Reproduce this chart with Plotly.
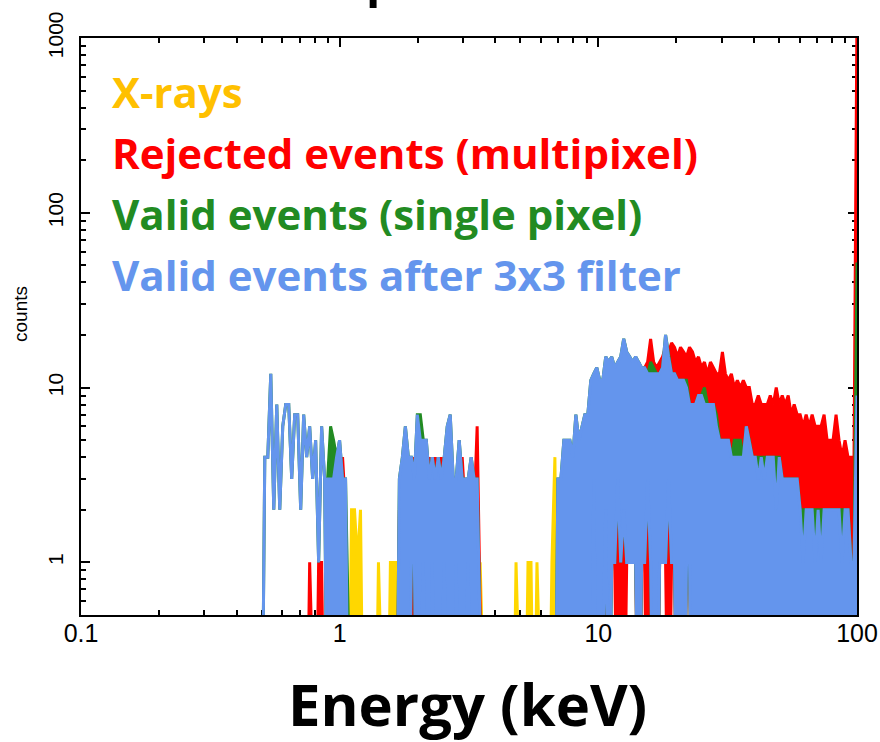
import numpy as np
import plotly.graph_objects as go

# Energy bin grid (keV), log-spaced from 0.5 to 100 keV; last bin collects overflow
N_BINS = 200
ENERGY = np.geomspace(0.5, 100.0, N_BINS)

# Counts per bin. For the dense part of the spectrum each bin stores the range the
# histogram sweeps through inside it: *_HI = highest count, *_LO = lowest count.

BLUE_HI = [
    0, 4, 4, 12, 2, 8, 2, 6, 8, 8,
    3, 7, 7, 2, 7, 4, 6, 3, 5, 1,
    6, 3, 3, 3, 3, 4, 5, 3, 3, 0,
    0, 0, 0, 0, 0, 0, 0, 0, 0, 0,
    0, 0, 0, 0, 0, 0, 3, 4, 6, 4,
    4, 3, 7, 5, 5, 5, 3, 4, 3, 4,
    3, 4, 6, 7, 3, 3, 5, 3, 3, 3,
    4, 3, 3, 0, 0, 0, 0, 0, 0, 0,
    0, 0, 0, 0, 0, 0, 0, 0, 0, 0,
    0, 0, 0, 0, 0, 0, 0, 0, 0, 3,
    3, 5, 5, 5, 4, 7, 5, 6, 7, 7,
    11, 12, 13, 11, 11, 15, 14, 15, 13, 14,
    15, 19, 16, 15, 14, 15, 14, 13, 13, 12,
    12, 12, 12, 12, 13, 20, 15, 12, 12, 11,
    11, 11, 10, 8, 8, 8, 9, 9, 8, 8,
    8, 8, 6, 5, 5, 5, 5, 4, 4, 4,
    4, 4, 6, 5, 4, 4, 3, 4, 3, 4,
    4, 4, 2, 4, 3, 3, 3, 3, 3, 3,
    2, 1, 2, 2, 2, 1, 2, 1, 2, 2,
    2, 2, 2, 2, 1, 2, 2, 1, 1, 9,
]
BLUE_LO = [
    0, 4, 4, 12, 2, 8, 2, 6, 8, 8,
    3, 7, 7, 2, 7, 4, 6, 3, 5, 1,
    6, 3, 0, 0, 0, 0, 0, 0, 0, 0,
    0, 0, 0, 0, 0, 0, 0, 0, 0, 0,
    0, 0, 0, 0, 0, 0, 0, 0, 0, 0,
    1, 1, 0, 0, 1, 0, 0, 1, 0, 0,
    0, 1, 0, 0, 0, 1, 0, 0, 0, 1,
    0, 0, 0, 0, 0, 0, 0, 0, 0, 0,
    0, 0, 0, 0, 0, 0, 0, 0, 0, 0,
    0, 0, 0, 0, 0, 0, 0, 0, 0, 0,
    0, 0, 0, 0, 0, 0, 0, 0, 0, 0,
    0, 3, 0, 0, 0, 2, 0, 1, 1, 3,
    1, 2, 1, 1, 1, 1, 0, 1, 1, 3,
    1, 0, 0, 1, 1, 1, 3, 1, 1, 0,
    0, 0, 1, 1, 0, 0, 0, 0, 0, 0,
    0, 0, 0, 0, 0, 0, 0, 0, 0, 0,
    0, 0, 0, 0, 0, 0, 0, 0, 0, 0,
    0, 0, 0, 0, 0, 0, 0, 0, 0, 0,
    0, 0, 0, 0, 0, 0, 0, 0, 0, 0,
    0, 0, 0, 0, 0, 0, 0, 0, 0, 0,
]

GREEN_HI = [
    0, 4, 4, 12, 2, 8, 2, 6, 8, 8,
    3, 7, 7, 2, 7, 4, 6, 3, 5, 1,
    6, 3, 3, 6, 5, 4, 5, 3, 3, 0,
    0, 0, 0, 0, 0, 0, 0, 0, 0, 0,
    0, 0, 0, 0, 0, 0, 3, 4, 6, 4,
    4, 3, 7, 7, 5, 5, 3, 4, 3, 4,
    3, 4, 6, 7, 3, 3, 5, 3, 3, 3,
    4, 3, 3, 0, 0, 0, 0, 0, 0, 0,
    0, 0, 0, 0, 0, 0, 0, 0, 0, 0,
    0, 0, 0, 0, 0, 0, 0, 0, 0, 3,
    3, 5, 5, 5, 4, 7, 5, 6, 7, 7,
    11, 12, 13, 11, 11, 15, 14, 15, 13, 14,
    15, 19, 16, 15, 14, 15, 14, 13, 13, 12,
    14, 13, 12, 12, 13, 20, 15, 12, 12, 11,
    11, 11, 11, 8, 8, 8, 9, 9, 10, 8,
    8, 8, 7, 5, 5, 5, 5, 4, 5, 5,
    5, 4, 6, 5, 4, 4, 4, 4, 4, 4,
    4, 4, 4, 4, 3, 3, 3, 3, 3, 3,
    2, 2, 2, 2, 2, 2, 2, 2, 2, 2,
    2, 2, 2, 2, 2, 2, 2, 1, 1, 52,
]
GREEN_LO = [
    0, 4, 4, 12, 2, 8, 2, 6, 8, 8,
    3, 7, 7, 2, 7, 4, 6, 3, 5, 1,
    6, 3, 0, 0, 0, 0, 0, 0, 0, 0,
    0, 0, 0, 0, 0, 0, 0, 0, 0, 0,
    0, 0, 0, 0, 0, 0, 0, 0, 0, 0,
    1, 1, 0, 0, 1, 0, 0, 1, 0, 0,
    0, 1, 0, 0, 0, 1, 0, 0, 0, 1,
    0, 0, 0, 0, 0, 0, 0, 0, 0, 0,
    0, 0, 0, 0, 0, 0, 0, 0, 0, 0,
    0, 0, 0, 0, 0, 0, 0, 0, 0, 0,
    0, 0, 0, 0, 0, 0, 0, 0, 0, 0,
    0, 3, 0, 0, 0, 2, 0, 1, 1, 3,
    1, 2, 1, 1, 1, 1, 0, 1, 1, 3,
    1, 0, 0, 1, 1, 1, 3, 1, 1, 0,
    0, 0, 1, 1, 0, 0, 0, 0, 0, 0,
    0, 0, 0, 0, 0, 0, 0, 0, 0, 0,
    0, 0, 0, 0, 0, 0, 0, 0, 0, 0,
    0, 0, 0, 0, 0, 0, 0, 0, 0, 0,
    0, 0, 0, 0, 0, 0, 0, 0, 0, 0,
    0, 0, 0, 0, 0, 0, 0, 0, 0, 0,
]

RED_HI = [
    0, 0, 0, 0, 0, 0, 0, 0, 0, 0,
    0, 0, 0, 0, 0, 0, 1, 0, 0, 1,
    1, 0, 1, 2, 3, 3, 3, 4, 2, 0,
    0, 0, 0, 0, 0, 0, 0, 0, 0, 0,
    0, 0, 0, 0, 0, 0, 2, 1, 3, 1,
    1, 4, 3, 1, 1, 2, 4, 1, 4, 2,
    4, 1, 3, 2, 2, 1, 3, 4, 2, 1,
    2, 2, 6, 0, 0, 0, 0, 0, 0, 0,
    0, 0, 0, 0, 0, 0, 0, 0, 0, 0,
    0, 0, 0, 0, 0, 0, 0, 0, 0, 0,
    2, 3, 4, 3, 3, 5, 4, 5, 6, 6,
    8, 10, 9, 10, 9, 11, 12, 12, 11, 13,
    12, 14, 13, 13, 12, 13, 14, 12, 13, 14,
    19, 14, 13, 14, 15, 17, 16, 18, 17, 15,
    17, 16, 15, 17, 16, 14, 15, 13, 14, 12,
    14, 13, 12, 12, 16, 12, 11, 12, 10, 11,
    10, 11, 10, 10, 8, 8, 9, 8, 8, 8,
    9, 8, 10, 8, 9, 8, 9, 7, 8, 7,
    7, 6, 7, 6, 7, 6, 6, 6, 7, 5,
    5, 5, 7, 5, 4, 5, 4, 4, 4, 1500,
]
RED_LO = [
    0, 0, 0, 0, 0, 0, 0, 0, 0, 0,
    0, 0, 0, 0, 0, 0, 0, 0, 0, 0,
    0, 0, 0, 0, 0, 0, 0, 0, 0, 0,
    0, 0, 0, 0, 0, 0, 0, 0, 0, 0,
    0, 0, 0, 0, 0, 0, 0, 0, 0, 0,
    0, 0, 0, 0, 0, 0, 0, 0, 0, 0,
    0, 0, 0, 0, 0, 0, 0, 0, 0, 0,
    0, 0, 0, 0, 0, 0, 0, 0, 0, 0,
    0, 0, 0, 0, 0, 0, 0, 0, 0, 0,
    0, 0, 0, 0, 0, 0, 0, 0, 0, 0,
    0, 0, 0, 0, 0, 0, 0, 0, 0, 0,
    0, 0, 0, 0, 0, 0, 0, 1, 1, 0,
    1, 0, 1, 1, 1, 1, 0, 1, 1, 0,
    1, 0, 0, 1, 1, 1, 0, 1, 1, 0,
    0, 0, 1, 1, 0, 0, 0, 0, 0, 0,
    0, 0, 0, 0, 0, 0, 0, 0, 0, 0,
    0, 0, 0, 0, 0, 0, 0, 0, 0, 0,
    0, 0, 0, 0, 0, 0, 0, 0, 0, 0,
    0, 0, 0, 0, 0, 0, 0, 0, 0, 0,
    0, 0, 0, 0, 0, 0, 0, 0, 0, 0,
]

XRAY_HI = [
    0, 0, 0, 0, 0, 0, 0, 0, 0, 0,
    0, 0, 0, 0, 0, 0, 0, 0, 0, 0,
    0, 0, 0, 0, 0, 0, 0, 0, 0, 0,
    2, 2, 1, 2, 0, 0, 0, 0, 0, 1,
    0, 0, 0, 1, 1, 1, 0, 0, 0, 0,
    0, 0, 0, 0, 0, 0, 0, 0, 0, 0,
    0, 0, 0, 0, 0, 0, 0, 0, 0, 0,
    0, 0, 0, 1, 0, 0, 0, 0, 0, 0,
    0, 0, 0, 0, 0, 1, 0, 0, 0, 1,
    1, 0, 1, 0, 0, 0, 0, 1, 4, 0,
    0, 0, 0, 0, 0, 0, 0, 0, 0, 0,
    0, 0, 0, 0, 0, 0, 0, 0, 0, 0,
    0, 0, 0, 0, 0, 0, 0, 0, 0, 0,
    0, 0, 0, 0, 0, 0, 0, 0, 0, 0,
    0, 0, 0, 0, 0, 0, 0, 0, 0, 0,
    0, 0, 0, 0, 0, 0, 0, 0, 0, 0,
    0, 0, 0, 0, 0, 0, 0, 0, 0, 0,
    0, 0, 0, 0, 0, 0, 0, 0, 0, 0,
    0, 0, 0, 0, 0, 0, 0, 0, 0, 0,
    0, 0, 0, 0, 0, 0, 0, 0, 0, 0,
]
XRAY_LO = [0] * N_BINS

SERIES = [
    ("X-rays", XRAY_LO, XRAY_HI, "#FFD700", "#FFC000"),
    ("Rejected events (multipixel)", RED_LO, RED_HI, "#FF0000", "#FF0000"),
    ("Valid events (single pixel)", GREEN_LO, GREEN_HI, "#228B22", "#228B22"),
    ("Valid events after 3x3 filter", BLUE_LO, BLUE_HI, "#6495ED", "#6495ED"),
]

# Empty bins sit below the visible range of the log axis
ZERO_FLOOR = 0.05


def band_outline(energy, lo, hi):
    """Closed outline: along the highest counts, then back along the lowest."""
    e = list(energy)
    top = [v if v > 0 else ZERO_FLOOR for v in hi]
    bottom = [v if v > 0 else ZERO_FLOOR for v in lo]
    return e + e[::-1], top + bottom[::-1]


fig = go.Figure()
for name, lo, hi, line_color, _ in SERIES:
    xs, ys = band_outline(ENERGY, lo, hi)
    fig.add_trace(go.Scatter(
        x=xs, y=ys, mode="lines", name=name,
        fill="toself", fillcolor=line_color,
        line=dict(color=line_color, width=3),
        hoverinfo="skip", showlegend=False,
    ))

PLOT_L, PLOT_R, PLOT_T, PLOT_B = 81, 857, 38, 615
W, H = 880, 742


def px_x(px):
    return (px - PLOT_L) / (PLOT_R - PLOT_L)


def px_y(py):
    return (PLOT_B - py) / (PLOT_B - PLOT_T)


axis_common = dict(
    type="log",
    showline=True, linecolor="black", linewidth=2,
    mirror="allticks", ticks="inside", ticklen=9, tickwidth=2, tickcolor="black",
    showgrid=False, zeroline=False, layer="below traces",
    minor=dict(ticks="inside", ticklen=5, tickwidth=1.5, tickcolor="black",
               dtick="D1", showgrid=False),
)

fig.update_xaxes(
    **axis_common,
    range=[-1, 2],
    tickvals=[0.1, 1, 10, 100], ticktext=["0.1", "1", "10", "100"],
    tickfont=dict(family="Liberation Sans, Arial, sans-serif", size=25, color="black"),
    ticklabelstandoff=-5,
)
fig.update_yaxes(
    **axis_common,
    range=[np.log10(0.5), 3],
    tickvals=[1, 10, 100, 1000], ticktext=["1", "10", "100", "1000"],
    tickangle=-90,
    tickfont=dict(family="Liberation Sans, Arial, sans-serif", size=21, color="black"),
    ticklabelstandoff=8,
)

annotations = []
legend_rows = [91, 152, 213, 274]
for (name, _, _, _, text_color), py in zip(SERIES, legend_rows):
    annotations.append(dict(
        text=f"<b>{name}</b>", x=px_x(110), y=px_y(py), xref="paper", yref="paper",
        xanchor="left", yanchor="middle", showarrow=False,
        font=dict(family="Open Sans, sans-serif", size=42, color=text_color),
    ))

annotations.append(dict(
    text="counts", x=px_x(20), y=px_y(314), xref="paper", yref="paper",
    textangle=-90, xanchor="center", yanchor="middle", showarrow=False,
    font=dict(family="Liberation Sans, Arial, sans-serif", size=19, color="black"),
))
annotations.append(dict(
    text="<b>Energy (keV)</b>", x=px_x(467), y=px_y(703), xref="paper", yref="paper",
    xanchor="center", yanchor="middle", showarrow=False,
    font=dict(family="Open Sans, sans-serif", size=58, color="black"),
))
annotations.append(dict(
    text="<b>Spectra</b>", x=px_x(430), y=px_y(-22), xref="paper", yref="paper",
    xanchor="center", yanchor="middle", showarrow=False,
    font=dict(family="Lato, sans-serif", size=56, color="black"),
))

fig.update_layout(
    width=W, height=H,
    margin=dict(l=PLOT_L, r=W - PLOT_R, t=PLOT_T, b=H - PLOT_B, autoexpand=False),
    paper_bgcolor="white", plot_bgcolor="white",
    showlegend=False,
    annotations=annotations,
)

fig.write_html("out.html")
